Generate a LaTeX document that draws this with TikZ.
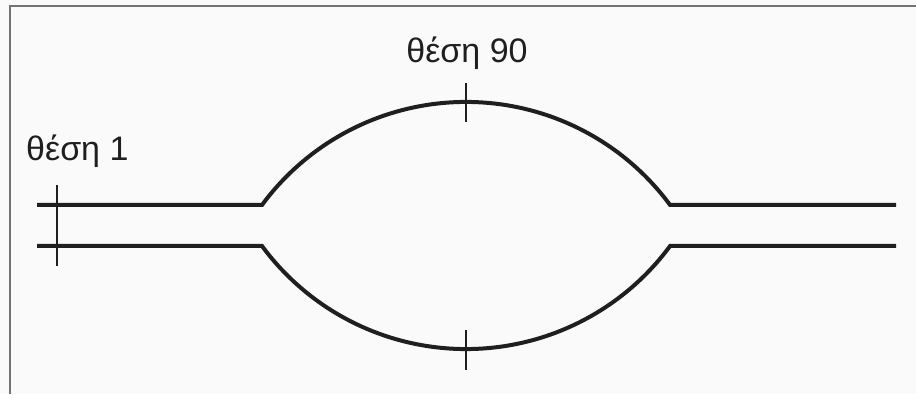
\documentclass[tikz,border=0pt]{standalone}
\usepackage{fontspec}
\setmainfont{Liberation Sans}
\begin{document}
\begin{tikzpicture}[x=1pt,y=1pt,
  rail/.style={line width=4pt,color=black!88},
  tick/.style={line width=2.2pt,color=black!88},
  frame/.style={line width=1.5pt,color=black!55},
  lbl/.style={inner sep=0pt,anchor=base,font=\fontsize{34}{38}\selectfont,text=black!88}]
\useasboundingbox (0,0) rectangle (916,394);
\fill[white!98!black] (0,0) rectangle (916,394);
% frame
\coordinate (fl) at (10,0);
\coordinate (ftl) at (10,388);
\coordinate (fr) at (916,388);
\draw[frame] (fl) -- (ftl) -- (fr);
% rail coordinates
\coordinate (ul) at (37,189);
\coordinate (uj1) at (262,189);
\coordinate (uj2) at (670,189);
\coordinate (ur) at (896,189);
\coordinate (ll) at (37,148);
\coordinate (lj1) at (262,148);
\coordinate (lj2) at (670,148);
\coordinate (lr) at (896,148);
\draw[rail] (ul) -- (uj1) arc[start angle=143.6, end angle=36.4, radius=253.5] -- (ur);
\draw[rail] (ll) -- (lj1) arc[start angle=216.4, end angle=323.6, radius=253.5] -- (lr);
% ticks
\coordinate (t1a) at (57,209);
\coordinate (t1b) at (57,128);
\coordinate (t2a) at (466,311);
\coordinate (t2b) at (466,272);
\coordinate (t3a) at (466,64);
\coordinate (t3b) at (466,24);
\draw[tick] (t1a) -- (t1b);
\draw[tick] (t2a) -- (t2b);
\draw[tick] (t3a) -- (t3b);
% labels
\node[lbl,anchor=base west] (p1) at (26,233) {θέση 1};
\node[lbl] (p90) at (467,331) {θέση 90};
\end{tikzpicture}
\end{document}
